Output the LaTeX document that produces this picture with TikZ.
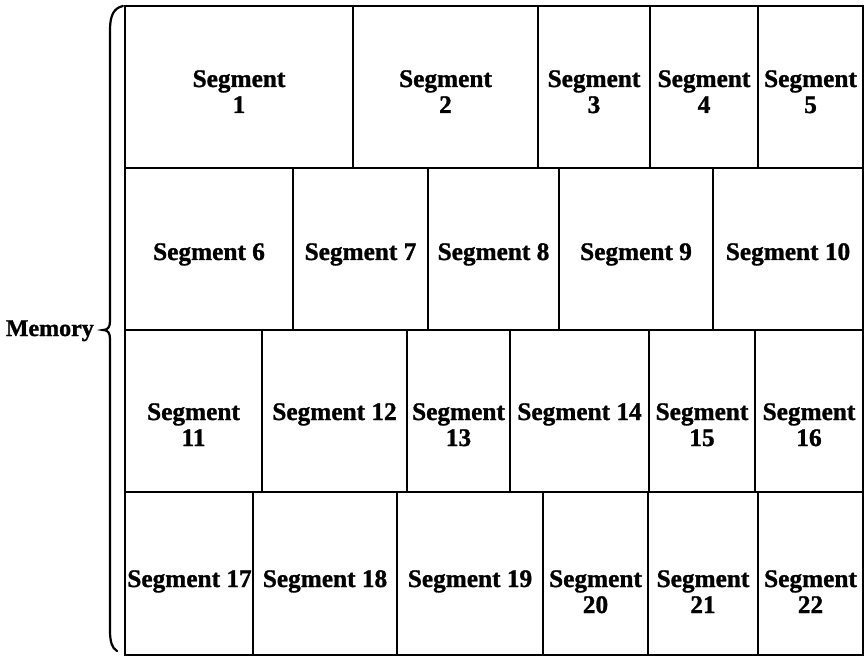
\documentclass[tikz,border=0pt]{standalone}
\usepackage{fontspec}
\setmainfont{Liberation Serif}
\newfontfamily\heavyfont{Liberation Serif Bold}[FakeBold=1.2]
\tikzset{
  cell/.style={draw=black, line width=2.2pt},
  seglabel/.style={inner sep=0pt, anchor=base, font=\fontsize{25.3}{26}\selectfont\heavyfont},
  memlabel/.style={inner sep=0pt, anchor=base east, font=\fontsize{24}{26}\selectfont\heavyfont},
  bracestyle/.style={draw=black, line width=2.2pt, line cap=round}
}
\newcommand{\twoline}[1]{\begin{tabular}[t]{@{}c@{}}Segment\\#1\end{tabular}}
\begin{document}
\begin{tikzpicture}[x=1pt,y=-1pt]
\useasboundingbox (0,0) rectangle (867,660);
% row bounds
\def\ya{6}\def\yb{168}\def\yc{330}\def\yd{492}\def\ye{655}
% Row 1
\draw[cell] (125,\ya) rectangle (353,\yb);
\draw[cell] (353,\ya) rectangle (538,\yb);
\draw[cell] (538,\ya) rectangle (650,\yb);
\draw[cell] (650,\ya) rectangle (758,\yb);
\draw[cell] (758,\ya) rectangle (863,\yb);
% Row 2
\draw[cell] (125,\yb) rectangle (293,\yc);
\draw[cell] (293,\yb) rectangle (428,\yc);
\draw[cell] (428,\yb) rectangle (559,\yc);
\draw[cell] (559,\yb) rectangle (713,\yc);
\draw[cell] (713,\yb) rectangle (863,\yc);
% Row 3
\draw[cell] (125,\yc) rectangle (262,\yd);
\draw[cell] (262,\yc) rectangle (407,\yd);
\draw[cell] (407,\yc) rectangle (510,\yd);
\draw[cell] (510,\yc) rectangle (649,\yd);
\draw[cell] (649,\yc) rectangle (755,\yd);
\draw[cell] (755,\yc) rectangle (863,\yd);
% Row 4
\draw[cell] (125,\yd) rectangle (253,\ye);
\draw[cell] (253,\yd) rectangle (397,\ye);
\draw[cell] (397,\yd) rectangle (543,\ye);
\draw[cell] (543,\yd) rectangle (648,\ye);
\draw[cell] (648,\yd) rectangle (758,\ye);
\draw[cell] (758,\yd) rectangle (863,\ye);
% Labels row 1
\node[seglabel] (s1) at (239,87) {\twoline{1}};
\node[seglabel] (s2) at (445.5,87) {\twoline{2}};
\node[seglabel] (s3) at (594,87) {\twoline{3}};
\node[seglabel] (s4) at (704,87) {\twoline{4}};
\node[seglabel] (s5) at (810.5,87) {\twoline{5}};
% Labels row 2
\node[seglabel] (s6) at (209,260) {Segment 6};
\node[seglabel] (s7) at (360.5,260) {Segment 7};
\node[seglabel] (s8) at (493.5,260) {Segment 8};
\node[seglabel] (s9) at (636,260) {Segment 9};
\node[seglabel] (s10) at (788,260) {Segment 10};
% Labels row 3
\node[seglabel] (s11) at (193.5,420) {\twoline{11}};
\node[seglabel] (s12) at (334.5,420) {Segment 12};
\node[seglabel] (s13) at (458.5,420) {\twoline{13}};
\node[seglabel] (s14) at (579.5,420) {Segment 14};
\node[seglabel] (s15) at (702,420) {\twoline{15}};
\node[seglabel] (s16) at (809,420) {\twoline{16}};
% Labels row 4
\node[seglabel] (s17) at (189.5,587) {Segment 17};
\node[seglabel] (s18) at (325,587) {Segment 18};
\node[seglabel] (s19) at (470,587) {Segment 19};
\node[seglabel] (s20) at (595.5,587) {\twoline{20}};
\node[seglabel] (s21) at (703,587) {\twoline{21}};
\node[seglabel] (s22) at (810.5,587) {\twoline{22}};
% Memory label and brace
\node[memlabel] (mem) at (94,336) {Memory};
\draw[bracestyle] (123,6) .. controls (114,8) and (110,15) .. (110,30)
  -- (110,321) .. controls (110,327) and (108,330) .. (103,330)
  .. controls (108,330) and (110,333) .. (110,339)
  -- (110,630) .. controls (110,642) and (112,648) .. (117,651);
\end{tikzpicture}
\end{document}
